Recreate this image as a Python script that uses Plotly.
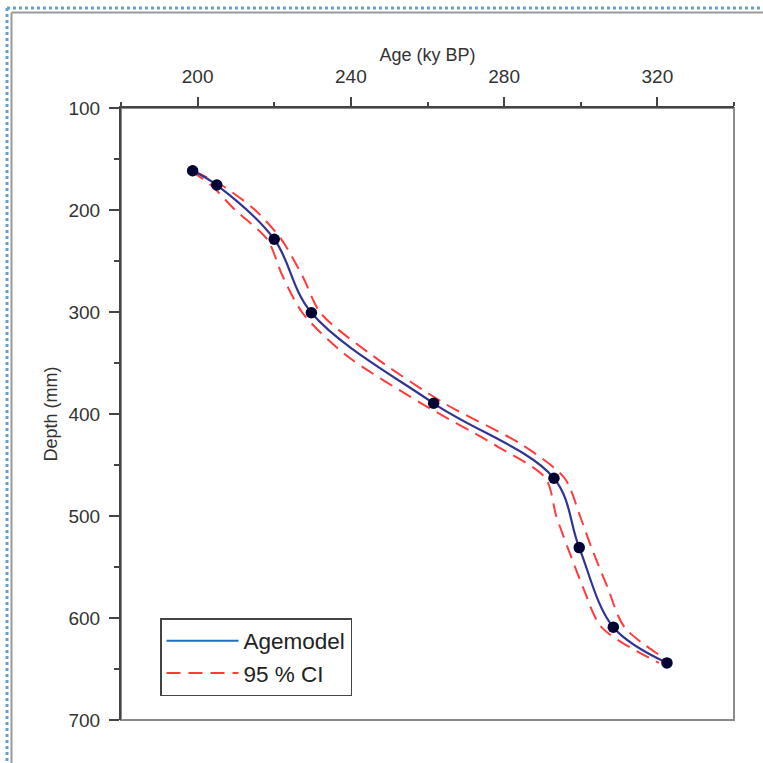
import plotly.graph_objects as go

# Data
age_points = [198.7, 205.0, 220.0, 229.7, 261.6, 293.0, 299.6, 308.5, 322.5]
depth_points = [161.5, 175.5, 228.7, 300.7, 389.5, 463.0, 531.0, 609.0, 644.0]

ci_depth = [162, 176, 200, 229, 265, 301, 342, 390, 430, 463, 500, 531, 570, 609, 644]
ci_lower = [198.4, 203.6, 209.8, 218.2, 222.2, 227.4, 238.6, 258.6, 277.4, 290.8, 293.6, 296.6, 300.6, 305.4, 320.4]
ci_upper = [199.1, 206.4, 215.0, 221.9, 227.4, 232.1, 245.4, 264.6, 284.6, 295.8, 299.8, 302.8, 307.0, 311.4, 323.6]

x_ticks = [200, 240, 280, 320]
y_ticks = [100, 200, 300, 400, 500, 600, 700]

W, H = 763, 763
L, R, T, B = 121, 734, 108, 720

def px_x(p):
    return (p - L) / (R - L)

def px_y(p):
    return (B - p) / (B - T)

fig = go.Figure()

ci_style = dict(color="#ff3b3b", width=2, dash="14px,8px", shape="spline", smoothing=0.8)
fig.add_trace(go.Scatter(x=ci_lower, y=ci_depth, mode="lines", line=ci_style,
                         name="95 % CI", showlegend=False))
fig.add_trace(go.Scatter(x=ci_upper, y=ci_depth, mode="lines", line=ci_style,
                         name="95 % CI", showlegend=False))
fig.add_trace(go.Scatter(x=age_points, y=depth_points, mode="lines",
                         line=dict(color="#2f3590", width=2.2, shape="spline", smoothing=1.0),
                         showlegend=False))
fig.add_trace(go.Scatter(x=age_points, y=depth_points, mode="markers",
                         marker=dict(color="#000033", size=11.5), showlegend=False))
# legend entries
fig.add_trace(go.Scatter(x=[None], y=[None], mode="lines",
                         line=dict(color="#1f6fc0", width=2), name="Agemodel"))
fig.add_trace(go.Scatter(x=[None], y=[None], mode="lines",
                         line=dict(color="#ff3b3b", width=2, dash="14px,8px"), name="95 % CI"))

axis_font = dict(family="Liberation Sans, Arial, sans-serif", size=19, color="#333333")

fig.update_layout(
    width=W, height=H,
    margin=dict(l=L, r=W - R, t=T, b=H - B),
    paper_bgcolor="white", plot_bgcolor="white",
    font=dict(family="Liberation Sans, Arial, sans-serif", color="#333333"),
    xaxis=dict(
        side="top", range=[180, 340], tickvals=x_ticks,
        showgrid=False, zeroline=False,
        showline=True, linecolor="#444444", linewidth=2,
        ticks="outside", ticklen=9, tickwidth=1.5, tickcolor="#444444",
        minor=dict(tickvals=[180, 220, 260, 300, 340], ticks="outside", ticklen=4,
                   tickwidth=1.5, tickcolor="#444444"),
        tickfont=axis_font, ticklabelstandoff=6,
        title=dict(text="Age (ky BP)", font=dict(size=18, color="#333333"), standoff=0),
    ),
    yaxis=dict(
        range=[700, 100], tickvals=y_ticks,
        showgrid=False, zeroline=False,
        showline=True, linecolor="#444444", linewidth=2,
        ticks="outside", ticklen=10, tickwidth=1.5, tickcolor="#444444",
        minor=dict(tickvals=[150, 250, 350, 450, 550, 650], ticks="outside", ticklen=5,
                   tickwidth=1.5, tickcolor="#444444"),
        tickfont=axis_font, ticklabelstandoff=5,
        title=dict(text="Depth (mm)", font=dict(size=18, color="#333333"), standoff=6),
    ),
    legend=dict(
        x=px_x(160), y=px_y(618), xanchor="left", yanchor="top",
        bgcolor="white", bordercolor="#444444", borderwidth=1.5,
        font=dict(size=22.5, color="#222222"), itemwidth=72,
        tracegroupgap=0,
    ),
    shapes=[
        # right and bottom plot border (gray)
        dict(type="rect", xref="paper", yref="paper", x0=0, x1=1, y0=0, y1=1,
             line=dict(color="#8a8a8a", width=2), layer="below"),
        # outer frame (selection border)
        dict(type="line", xref="paper", yref="paper", x0=px_x(7), x1=px_x(770),
             y0=px_y(8), y1=px_y(8), line=dict(color="#6a9fd0", width=3, dash="dot")),
        dict(type="line", xref="paper", yref="paper", x0=px_x(7), x1=px_x(7),
             y0=px_y(8), y1=px_y(770), line=dict(color="#6a9fd0", width=3, dash="dot")),
        dict(type="line", xref="paper", yref="paper", x0=px_x(11.5), x1=px_x(770),
             y0=px_y(12.5), y1=px_y(12.5), line=dict(color="#9a9a9a", width=2)),
        dict(type="line", xref="paper", yref="paper", x0=px_x(11.5), x1=px_x(11.5),
             y0=px_y(12.5), y1=px_y(770), line=dict(color="#9a9a9a", width=2)),
    ],
)

fig.write_html("out.html")
